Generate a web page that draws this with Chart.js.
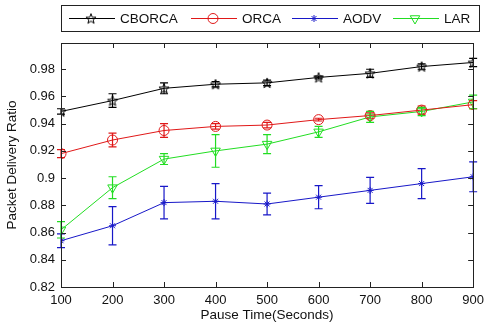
<!DOCTYPE html>
<html><head><meta charset="utf-8">
<script src="https://cdn.jsdelivr.net/npm/chart.js@4/dist/chart.umd.min.js"></script>
<style>html,body{margin:0;padding:0;background:#fff}</style>
</head><body>
<canvas id="c" width="490" height="327"></canvas>
<script>
const pauseTimes = [100, 200, 300, 400, 500, 600, 700, 800, 900];
const yTickValues = [0.82, 0.84, 0.86, 0.88, 0.9, 0.92, 0.94, 0.96, 0.98];
const seriesNames = ['CBORCA', 'ORCA', 'AODV', 'LAR'];
const cborca    = [0.949, 0.957, 0.966, 0.969, 0.970, 0.974, 0.977, 0.982, 0.985];
const cborcaErr = [0.002, 0.005, 0.004, 0.002, 0.002, 0.001, 0.003, 0.002, 0.003];
const orca      = [0.918, 0.928, 0.935, 0.938, 0.939, 0.943, 0.946, 0.950, 0.954];
const orcaErr   = [0.003, 0.005, 0.005, 0.002, 0.002, 0.001, 0.002, 0.003, 0.003];
const aodv      = [0.854, 0.865, 0.882, 0.883, 0.881, 0.886, 0.891, 0.896, 0.901];
const aodvErr   = [0.005, 0.014, 0.012, 0.013, 0.008, 0.0085, 0.0095, 0.011, 0.011];
const lar       = [0.862, 0.893, 0.914, 0.920, 0.925, 0.934, 0.945, 0.949, 0.956];
const larErr    = [0.006, 0.008, 0.004, 0.012, 0.007, 0.004, 0.004, 0.003, 0.005];

function pentagram(color) {
  const cv = document.createElement('canvas');
  cv.width = 14; cv.height = 14;
  const g = cv.getContext('2d');
  g.strokeStyle = color; g.lineWidth = 1;
  g.beginPath();
  for (let k = 0; k < 10; k++) {
    const r = (k % 2 === 0) ? 5.3 : 2.2;
    const a = -Math.PI / 2 + k * Math.PI / 5;
    const px = 7 + r * Math.cos(a), py = 7.5 + r * Math.sin(a);
    if (k === 0) g.moveTo(px, py); else g.lineTo(px, py);
  }
  g.closePath(); g.stroke();
  return cv;
}

const colors = ['#000000', '#e01818', '#1818c8', '#22dd22'];
const values = [cborca, orca, aodv, lar];
const errors = [cborcaErr, orcaErr, aodvErr, larErr];
const styles = [
  {pointStyle: pentagram('#000000'), radius: 6, rotation: 0},
  {pointStyle: 'circle', radius: 5, rotation: 0},
  {pointStyle: 'star', radius: 3.5, rotation: 0},
  {pointStyle: 'triangle', radius: 5.5, rotation: 180}
];

const datasets = seriesNames.map((n, i) => ({
  label: n,
  data: pauseTimes.map((x, j) => ({x: x, y: values[i][j]})),
  errs: errors[i],
  borderColor: colors[i],
  backgroundColor: 'rgba(0,0,0,0)',
  borderWidth: 1,
  pointStyle: styles[i].pointStyle,
  pointRadius: styles[i].radius,
  pointRotation: styles[i].rotation,
  pointBorderColor: colors[i],
  pointBackgroundColor: 'rgba(0,0,0,0)',
  pointBorderWidth: 1,
  tension: 0
}));

const FONT = '"Liberation Sans", Arial, sans-serif';

const errorBars = {
  id: 'errorBars',
  afterDatasetsDraw(chart) {
    const ctx = chart.ctx, ys = chart.scales.y;
    chart.data.datasets.forEach((ds, i) => {
      const meta = chart.getDatasetMeta(i);
      ctx.save();
      ctx.strokeStyle = ds.borderColor; ctx.lineWidth = 1.2;
      meta.data.forEach((pt, j) => {
        const v = ds.data[j].y, e = ds.errs[j];
        const t = ys.getPixelForValue(v + e), b = ys.getPixelForValue(v - e);
        const x = pt.x;
        ctx.beginPath();
        ctx.moveTo(x, t); ctx.lineTo(x, b);
        ctx.moveTo(x - 4, t); ctx.lineTo(x + 4, t);
        ctx.moveTo(x - 4, b); ctx.lineTo(x + 4, b);
        ctx.stroke();
      });
      ctx.restore();
    });
  }
};

const frame = {
  id: 'frame',
  afterDraw(chart) {
    const ctx = chart.ctx, a = chart.chartArea;
    const xs = chart.scales.x, ys = chart.scales.y;
    ctx.save();
    ctx.strokeStyle = '#222'; ctx.lineWidth = 1;
    ctx.strokeRect(Math.round(a.left) + 0.5, Math.round(a.top) + 0.5, Math.round(a.right - a.left), Math.round(a.bottom - a.top));
    ctx.beginPath();
    xs.ticks.forEach(t => {
      const x = Math.round(xs.getPixelForValue(t.value)) + 0.5;
      ctx.moveTo(x, a.bottom); ctx.lineTo(x, a.bottom - 5);
      ctx.moveTo(x, a.top); ctx.lineTo(x, a.top + 5);
    });
    ys.ticks.forEach(t => {
      const y = Math.round(ys.getPixelForValue(t.value)) + 0.5;
      ctx.moveTo(a.left, y); ctx.lineTo(a.left + 5, y);
      ctx.moveTo(a.right, y); ctx.lineTo(a.right - 5, y);
    });
    ctx.stroke();
    ctx.restore();
  }
};

const legendBox = {
  id: 'legendBox',
  afterDraw(chart) {
    const ctx = chart.ctx;
    ctx.save();
    ctx.fillStyle = '#fff';
    ctx.fillRect(61.5, 5.5, 418, 26);
    ctx.strokeStyle = '#222'; ctx.lineWidth = 1;
    ctx.strokeRect(61.5, 5.5, 418, 26);
    const starts = [69, 191, 292, 393];
    const cy = 18.5;
    chart.data.datasets.forEach((ds, i) => {
      const x0 = starts[i];
      ctx.strokeStyle = ds.borderColor; ctx.lineWidth = 1;
      ctx.beginPath(); ctx.moveTo(x0, cy); ctx.lineTo(x0 + 46, cy); ctx.stroke();
      ctx.fillStyle = 'rgba(0,0,0,0)';
      ctx.strokeStyle = ds.borderColor;
      Chart.helpers.drawPoint(ctx, {pointStyle: ds.pointStyle, radius: ds.pointRadius, rotation: ds.pointRotation, borderWidth: 1}, x0 + 22, cy);
      ctx.fillStyle = '#111';
      ctx.font = '13.5px ' + FONT;
      ctx.textBaseline = 'middle'; ctx.textAlign = 'left';
      ctx.fillText(ds.label, x0 + 51, cy + 0.5);
    });
    ctx.restore();
  }
};

new Chart(document.getElementById('c'), {
  type: 'line',
  data: {datasets: datasets},
  options: {
    responsive: false,
    animation: false,
    layout: {padding: {top: 43, right: 12, left: 0, bottom: 0}},
    plugins: {legend: {display: false}, tooltip: {enabled: false}},
    scales: {
      x: {
        type: 'linear', min: 100, max: 900,
        grid: {display: false, drawTicks: false},
        border: {display: false},
        afterBuildTicks(s) { s.ticks = pauseTimes.map(v => ({value: v})); },
        afterFit(s) { s.height = 40; },
        ticks: {padding: 6, color: '#111', font: {family: FONT, size: 13}, callback: v => String(v)},
        title: {display: true, text: 'Pause Time(Seconds)', color: '#111', font: {family: FONT, size: 13.5}, padding: {top: 0, bottom: 4}}
      },
      y: {
        type: 'linear', min: 0.82, max: 0.9993,
        grid: {display: false, drawTicks: false},
        border: {display: false},
        afterBuildTicks(s) { s.ticks = yTickValues.map(v => ({value: v})); },
        afterFit(s) { s.width = 61; },
        ticks: {padding: 6, color: '#111', font: {family: FONT, size: 13}, callback: v => String(Math.round(v * 100) / 100)},
        title: {display: true, text: 'Packet Delivery Ratio', color: '#111', font: {family: FONT, size: 13.5}, padding: {top: 4, bottom: 0}}
      }
    }
  },
  plugins: [errorBars, frame, legendBox]
});
</script>
</body></html>
